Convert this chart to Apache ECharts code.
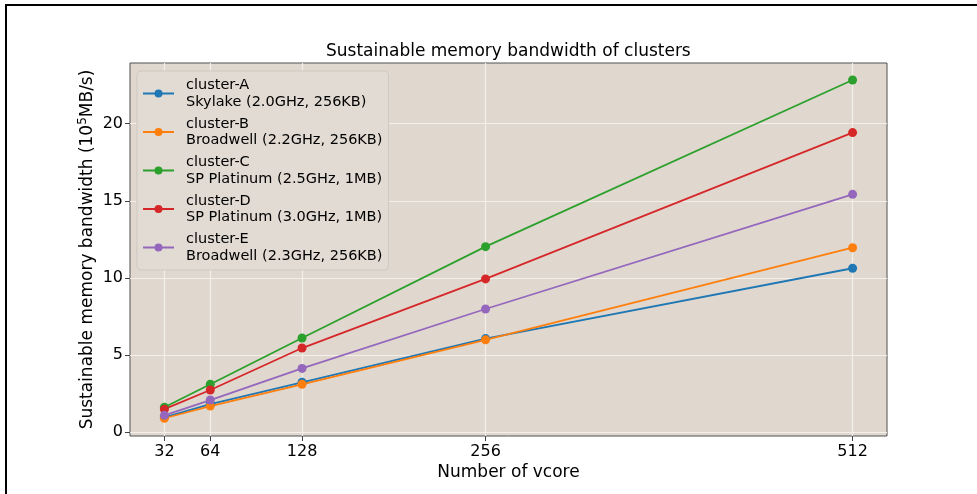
<!DOCTYPE html>
<html>
<head>
<meta charset="utf-8">
<script src="https://cdn.jsdelivr.net/npm/echarts@6/dist/echarts.min.js"></script>
<style>
  html, body { margin: 0; padding: 0; background: #ffffff; }
  #chart { width: 977px; height: 494px; }
</style>
</head>
<body>
<div id="chart"></div>
<script>
// Number of virtual cores used in each run
const vcores = [32, 64, 128, 256, 512];
const yTicks = [0, 5, 10, 15, 20];

// Cluster names and hardware descriptions
const clusterIds = ['cluster-A', 'cluster-B', 'cluster-C', 'cluster-D', 'cluster-E'];
const clusterDescs = [
  'Skylake (2.0GHz, 256KB)',
  'Broadwell (2.2GHz, 256KB)',
  'SP Platinum (2.5GHz, 1MB)',
  'SP Platinum (3.0GHz, 1MB)',
  'Broadwell (2.3GHz, 256KB)'
];

// Sustainable memory bandwidth, in units of 10^5 MB/s
const clusterA = [0.97, 1.83, 3.24, 6.07, 10.63];
const clusterB = [0.91, 1.70, 3.11, 5.99, 11.96];
const clusterC = [1.62, 3.11, 6.11, 12.03, 22.83];
const clusterD = [1.50, 2.74, 5.46, 9.94, 19.42];
const clusterE = [1.10, 2.09, 4.14, 7.99, 15.42];

const seriesValues = [clusterA, clusterB, clusterC, clusterD, clusterE];
const colors = ['#1f77b4', '#ff7f0e', '#2ca02c', '#d62728', '#9467bd'];

const FONT = 'DejaVu Sans';
const chart = echarts.init(document.getElementById('chart'), null, { renderer: 'canvas' });

const series = seriesValues.map((vals, i) => ({
  name: clusterIds[i] + '\n' + clusterDescs[i],
  type: 'line',
  data: vcores.map((v, j) => [v, vals[j]]),
  symbol: 'circle',
  symbolSize: 9,
  showSymbol: true,
  color: colors[i],
  lineStyle: { width: 1.8, color: colors[i] },
  itemStyle: { color: colors[i] },
  emphasis: { disabled: true },
  animation: false
}));

chart.setOption({
  animation: false,
  backgroundColor: '#ffffff',
  textStyle: { fontFamily: FONT },
  graphic: [{
    type: 'rect',
    shape: { x: 6, y: 5, width: 1000, height: 600 },
    style: { fill: 'none', stroke: '#000000', lineWidth: 2 },
    silent: true,
    z: -10
  }],
  title: {
    text: 'Sustainable memory bandwidth of clusters',
    left: 326,
    top: 43,
    padding: 0,
    textStyle: { fontFamily: FONT, fontSize: 17, fontWeight: 'normal', color: '#000000' }
  },
  grid: {
    left: 130, top: 63, right: 90, bottom: 58,
    show: true,
    backgroundColor: '#e0d8cf',
    borderColor: '#505050',
    borderWidth: 1
  },
  legend: {
    orient: 'vertical',
    left: 137,
    top: 71,
    padding: [6, 6, 6, 5],
    itemGap: 5.5,
    itemWidth: 31,
    itemHeight: 10,
    backgroundColor: '#e2dbd3',
    borderColor: '#cfc9c2',
    borderWidth: 1,
    borderRadius: 4,
    selectedMode: false,
    textStyle: {
      fontFamily: FONT,
      fontSize: 14.5,
      lineHeight: 16.5,
      color: '#000000',
      padding: [0, 0, 0, 7]
    },
    data: series.map(s => s.name)
  },
  xAxis: {
    type: 'value',
    min: 8,
    max: 536,
    name: 'Number of vcore',
    nameLocation: 'middle',
    nameGap: 28,
    nameMoveOverlap: false,
    nameTextStyle: { fontFamily: FONT, fontSize: 17, color: '#000000' },
    axisLine: { show: false, onZero: false },
    axisTick: {
      show: true, length: 5, inside: false,
      customValues: vcores,
      lineStyle: { color: '#404040', width: 1 }
    },
    axisLabel: {
      customValues: vcores,
      margin: 8,
      fontFamily: FONT, fontSize: 16, color: '#000000'
    },
    splitLine: { show: true, lineStyle: { color: '#f3efea', width: 1.2 } }
  },
  yAxis: {
    type: 'value',
    min: -0.24,
    max: 23.93,
    name: '{n|Sustainable memory bandwidth (10}{sup|5}{n|MB/s)}',
    nameLocation: 'middle',
    nameGap: 31,
    nameMoveOverlap: false,
    nameRotate: 90,
    nameTextStyle: {
      fontFamily: FONT, fontSize: 17, color: '#000000',
      rich: {
        n: { fontFamily: FONT, fontSize: 17, lineHeight: 22, color: '#000000' },
        sup: { fontFamily: FONT, fontSize: 12, lineHeight: 12, color: '#000000', verticalAlign: 'top' }
      }
    },
    axisLine: { show: false, onZero: false },
    axisTick: {
      show: true, length: 5, inside: false,
      customValues: yTicks,
      lineStyle: { color: '#404040', width: 1 }
    },
    axisLabel: {
      customValues: yTicks,
      margin: 7,
      padding: [4, 0, 0, 0],
      fontFamily: FONT, fontSize: 16, color: '#000000'
    },
    splitLine: { show: true, lineStyle: { color: '#f3efea', width: 1.2 } }
  },
  series: series
});
</script>
</body>
</html>
